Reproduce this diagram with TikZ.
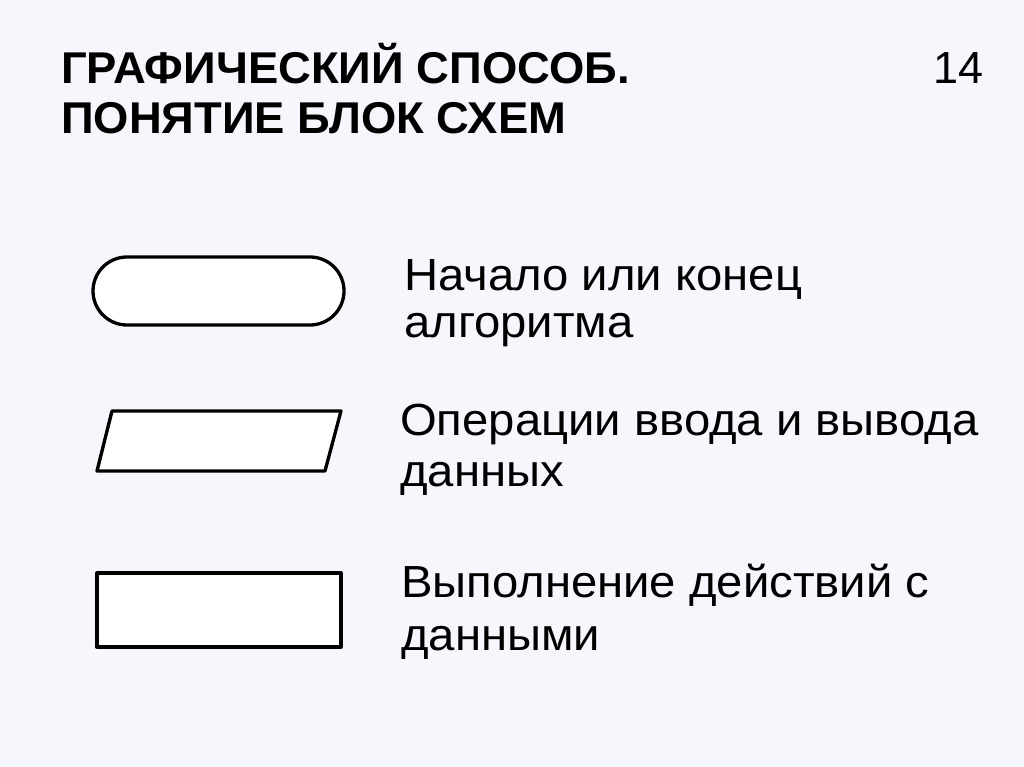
\documentclass[tikz,border=0pt]{standalone}
\usepackage{fontspec}
\setmainfont{Liberation Sans}
\newfontfamily\ttlfont[FakeStretch=1.02]{Liberation Sans}
\newfontfamily\bodyfont[FakeStretch=1.05]{Liberation Sans}
\definecolor{bg}{RGB}{246,247,252}
\begin{document}
\begin{tikzpicture}[x=1pt,y=-1pt,
  shapeline/.style={draw=black,line width=3.3pt,fill=white,line join=round},
  ttl/.style={anchor=base west,inner sep=0pt,font=\ttlfont\fontsize{44.5}{50}\selectfont\bfseries},
  body/.style={anchor=base west,inner sep=0pt,font=\bodyfont\fontsize{45}{50}\selectfont},
  num/.style={anchor=base east,inner sep=0pt,font=\fontsize{45}{50}\selectfont}]
\fill[bg] (0,0) rectangle (1024,767);
\useasboundingbox (0,0) rectangle (1024,767);
% title
\node[ttl] (t1) at (61,84) {ГРАФИЧЕСКИЙ СПОСОБ.};
\node[ttl] (t2) at (61,134) {ПОНЯТИЕ БЛОК СХЕМ};
\node[num] (pg) at (984,84) {14};
% shapes
\draw[shapeline,rounded corners=34pt] (93,257) rectangle (344,325);
\draw[shapeline] (112,411) -- (341,411) -- (325,471) -- (97,471) -- cycle;
\draw[shapeline] (97,573) rectangle (341,647);
% labels
\node[body] (a1) at (404,290) {Начало или конец};
\node[body] (a2) at (404,337) {алгоритма};
\node[body] (b1) at (400,435) {Операции ввода и вывода};
\node[body] (b2) at (400,486) {данных};
\node[body] (c1) at (401,597) {Выполнение действий с};
\node[body] (c2) at (401,650) {данными};
\end{tikzpicture}
\end{document}
